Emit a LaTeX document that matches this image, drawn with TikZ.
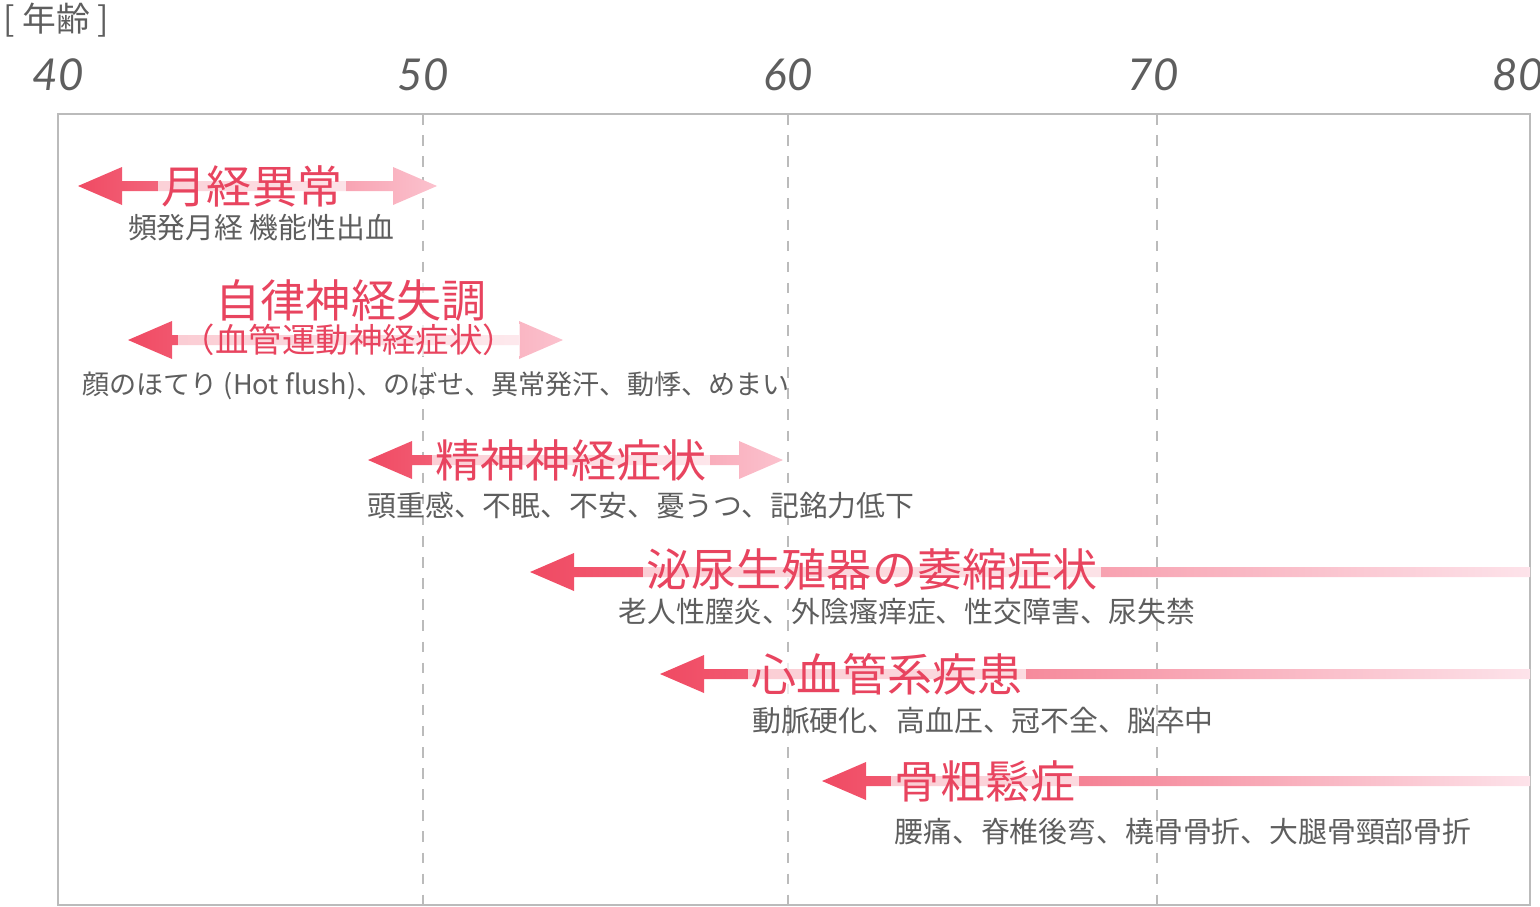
\documentclass[tikz,border=0pt]{standalone}
\usepackage{fontspec}
\setmainfont{Noto Sans CJK JP}
\newfontfamily\numfont{Lato}
\definecolor{redc}{HTML}{F04A63}
\definecolor{titlec}{HTML}{E8445F}
\definecolor{pinkc}{HTML}{FBC2CE}
\definecolor{fadec}{HTML}{FDE3EA}
\definecolor{grayc}{HTML}{5E5E5E}
\definecolor{framec}{HTML}{BBBBBB}

\begin{document}
\begin{tikzpicture}[x=0.01cm, y=-0.01cm,
    title/.style={text=titlec, font=\fontsize{12.8}{14}\selectfont, fill=white,
      fill opacity=0.7, text opacity=1, inner xsep=1pt, inner ysep=0pt},
    sub/.style={text=grayc, font=\fontsize{8.2}{10}\selectfont, inner sep=0pt},
    tick/.style={text=grayc, font=\numfont\itshape\fontsize{12.5}{14}\selectfont, inner sep=0pt}]
  \useasboundingbox (0,0) rectangle (1540,906);
  % axis: ages 40..80, frame and dashed decade lines
  \node[sub, anchor=west, font=\fontsize{9.6}{11}\selectfont] (unit) at (3,20) {[ 年齢 ]};
  \foreach \a/\x in {40/58, 50/423, 60/788, 70/1153, 80/1518}
    \node[tick] (t\a) at (\x,75) {\a};
  \draw[framec, line width=0.6pt] (58,114) rectangle (1530,905);
  \foreach \x in {423,788,1157}
    \draw[framec, dashed, line width=0.5pt] (\x,114) -- (\x,905);
  % double arrows: y / left tip / right tip
  \foreach \y/\xa/\xb in {186/78/437, 340/128/563, 460/368/783}
    \shade[left color=redc, right color=pinkc]
      (\xa,\y) -- (\xa+44,\y-19) -- (\xa+44,\y-5) -- (\xb-44,\y-5) -- (\xb-44,\y-19)
      -- (\xb,\y) -- (\xb-44,\y+19) -- (\xb-44,\y+5) -- (\xa+44,\y+5) -- (\xa+44,\y+19) -- cycle;
  % one-sided arrows running off the right edge
  \foreach \y/\xa in {572/530, 674/660, 781/822}
    \shade[left color=redc, right color=fadec]
      (\xa,\y) -- (\xa+44,\y-19) -- (\xa+44,\y-5) -- (1530,\y-5) -- (1530,\y+5)
      -- (\xa+44,\y+5) -- (\xa+44,\y+19) -- cycle;
  % titles and symptoms
  \node[title] (menses) at (252,186) {月経異常};
  \node[sub] (menses-s) at (261,228) {頻発月経 機能性出血};
  \node[title] (autonomic) at (351,300) {自律神経失調};
  \node[title, font=\fontsize{9.5}{11}\selectfont] (vaso) at (349,340) {（血管運動神経症状）};
  \node[sub, font=\fontsize{7.7}{10}\selectfont] (autonomic-s) at (436,386) {顔のほてり (Hot flush)、のぼせ、異常発汗、動悸、めまい};
  \node[title] (psycho) at (571,460) {精神神経症状};
  \node[sub] (psycho-s) at (641,506) {頭重感、不眠、不安、憂うつ、記銘力低下};
  \node[title] (uro) at (872,569) {泌尿生殖器の萎縮症状};
  \node[sub] (uro-s) at (907,612) {老人性膣炎、外陰瘙痒症、性交障害、尿失禁};
  \node[title] (cardio) at (887,674) {心血管系疾患};
  \node[sub] (cardio-s) at (983,721) {動脈硬化、高血圧、冠不全、脳卒中};
  \node[title] (bone) at (985,781) {骨粗鬆症};
  \node[sub] (bone-s) at (1183,832) {腰痛、脊椎後弯、橈骨骨折、大腿骨頸部骨折};
\end{tikzpicture}
\end{document}
